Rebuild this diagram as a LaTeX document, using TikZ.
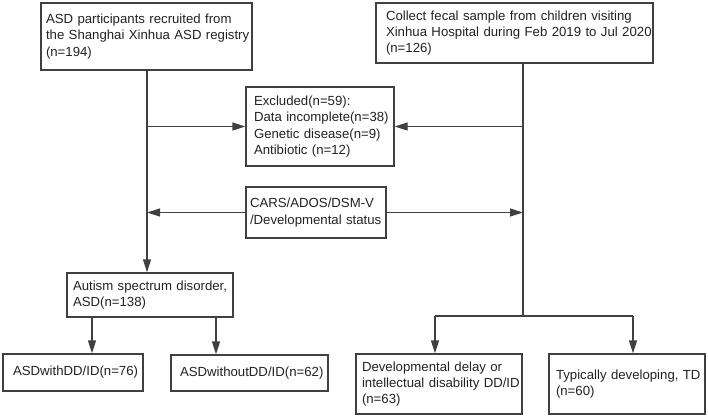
\documentclass[tikz,border=0pt]{standalone}
\usepackage{fontspec}
\setmainfont{Liberation Sans}
\usetikzlibrary{arrows.meta}
\definecolor{ln}{HTML}{404040}
\definecolor{tx}{HTML}{222222}
\begin{document}
\begin{tikzpicture}[x=1pt,y=-1pt,
  box/.style={draw=ln, line width=1.3pt, rectangle, inner sep=0pt, align=left,
    text=tx, font=\fontsize{13.2}{16.3}\selectfont},
  conn/.style={draw=ln, line width=1.3pt},
  arr/.style={conn, -{Triangle[length=13pt,width=8pt]}}]
\useasboundingbox (0,0) rectangle (708,418);
% boxes
\node[box, minimum width=211pt, minimum height=67pt, text width=201pt] (A) at (146.5,36.5)
  {\mbox{ASD participants recruited from}\\\mbox{the Shanghai Xinhua ASD registry}\\(n=194)};
\node[box, minimum width=277pt, minimum height=60pt, text width=257pt] (B) at (514.5,33)
  {\mbox{Collect fecal sample from children visiting}\\\mbox{Xinhua Hospital during Feb 2019 to Jul 2020}\\(n=126)};
\node[box, minimum width=148pt, minimum height=79pt, text width=132pt] (ex) at (320,126.5)
  {Excluded(n=59):\\\mbox{Data incomplete(n=38)}\\\mbox{Genetic disease(n=9)}\\\mbox{Antibiotic (n=12)}};
\node[box, minimum width=140pt, minimum height=51pt, text width=132pt] (cars) at (316,212.5)
  {\mbox{CARS/ADOS/DSM-V}\\\mbox{/Developmental status}};
\node[box, minimum width=166pt, minimum height=44pt, text width=154pt] (asd) at (150,295)
  {\mbox{Autism spectrum disorder,}\\ASD(n=138)};
\node[box, minimum width=140pt, minimum height=37pt, text width=120pt] (wdd) at (73,372.5)
  {\mbox{ASDwithDD/ID(n=76)}};
\node[box, minimum width=157pt, minimum height=36pt, text width=139pt] (wodd) at (249.5,373)
  {\mbox{ASDwithoutDD/ID(n=62)}};
\node[box, minimum width=166pt, minimum height=60pt, text width=154pt] (dd) at (439,384)
  {\mbox{Developmental delay or}\\\mbox{intellectual disability DD/ID}\\(n=63)};
\node[box, minimum width=156pt, minimum height=60pt, text width=142pt] (td) at (627,384)
  {\mbox{Typically developing, TD}\\(n=60)};
% helper coordinates
\coordinate (lx) at (147,0);
\coordinate (rx) at (523,0);
\coordinate (split) at (523,316);
\coordinate (ddx) at (435,316);
\coordinate (tdx) at (633,316);
\coordinate (a1) at (92,0);
\coordinate (a2) at (216,0);
% connectors
\draw[arr] (lx |- A.south) -- (lx |- asd.north);
\draw[arr] (lx |- ex.west) -- (ex.west);
\draw[arr] (cars.west) -- (lx |- cars.west);
\draw[conn] (rx |- B.south) -- (split);
\draw[arr] (rx |- ex.east) -- (ex.east);
\draw[arr] (cars.east) -- (rx |- cars.east);
\draw[conn] (ddx) -- (tdx);
\draw[arr] (ddx) -- (ddx |- dd.north);
\draw[arr] (tdx) -- (tdx |- td.north);
\draw[arr] (a1 |- asd.south) -- (a1 |- wdd.north);
\draw[arr] (a2 |- asd.south) -- (a2 |- wodd.north);
\end{tikzpicture}
\end{document}
